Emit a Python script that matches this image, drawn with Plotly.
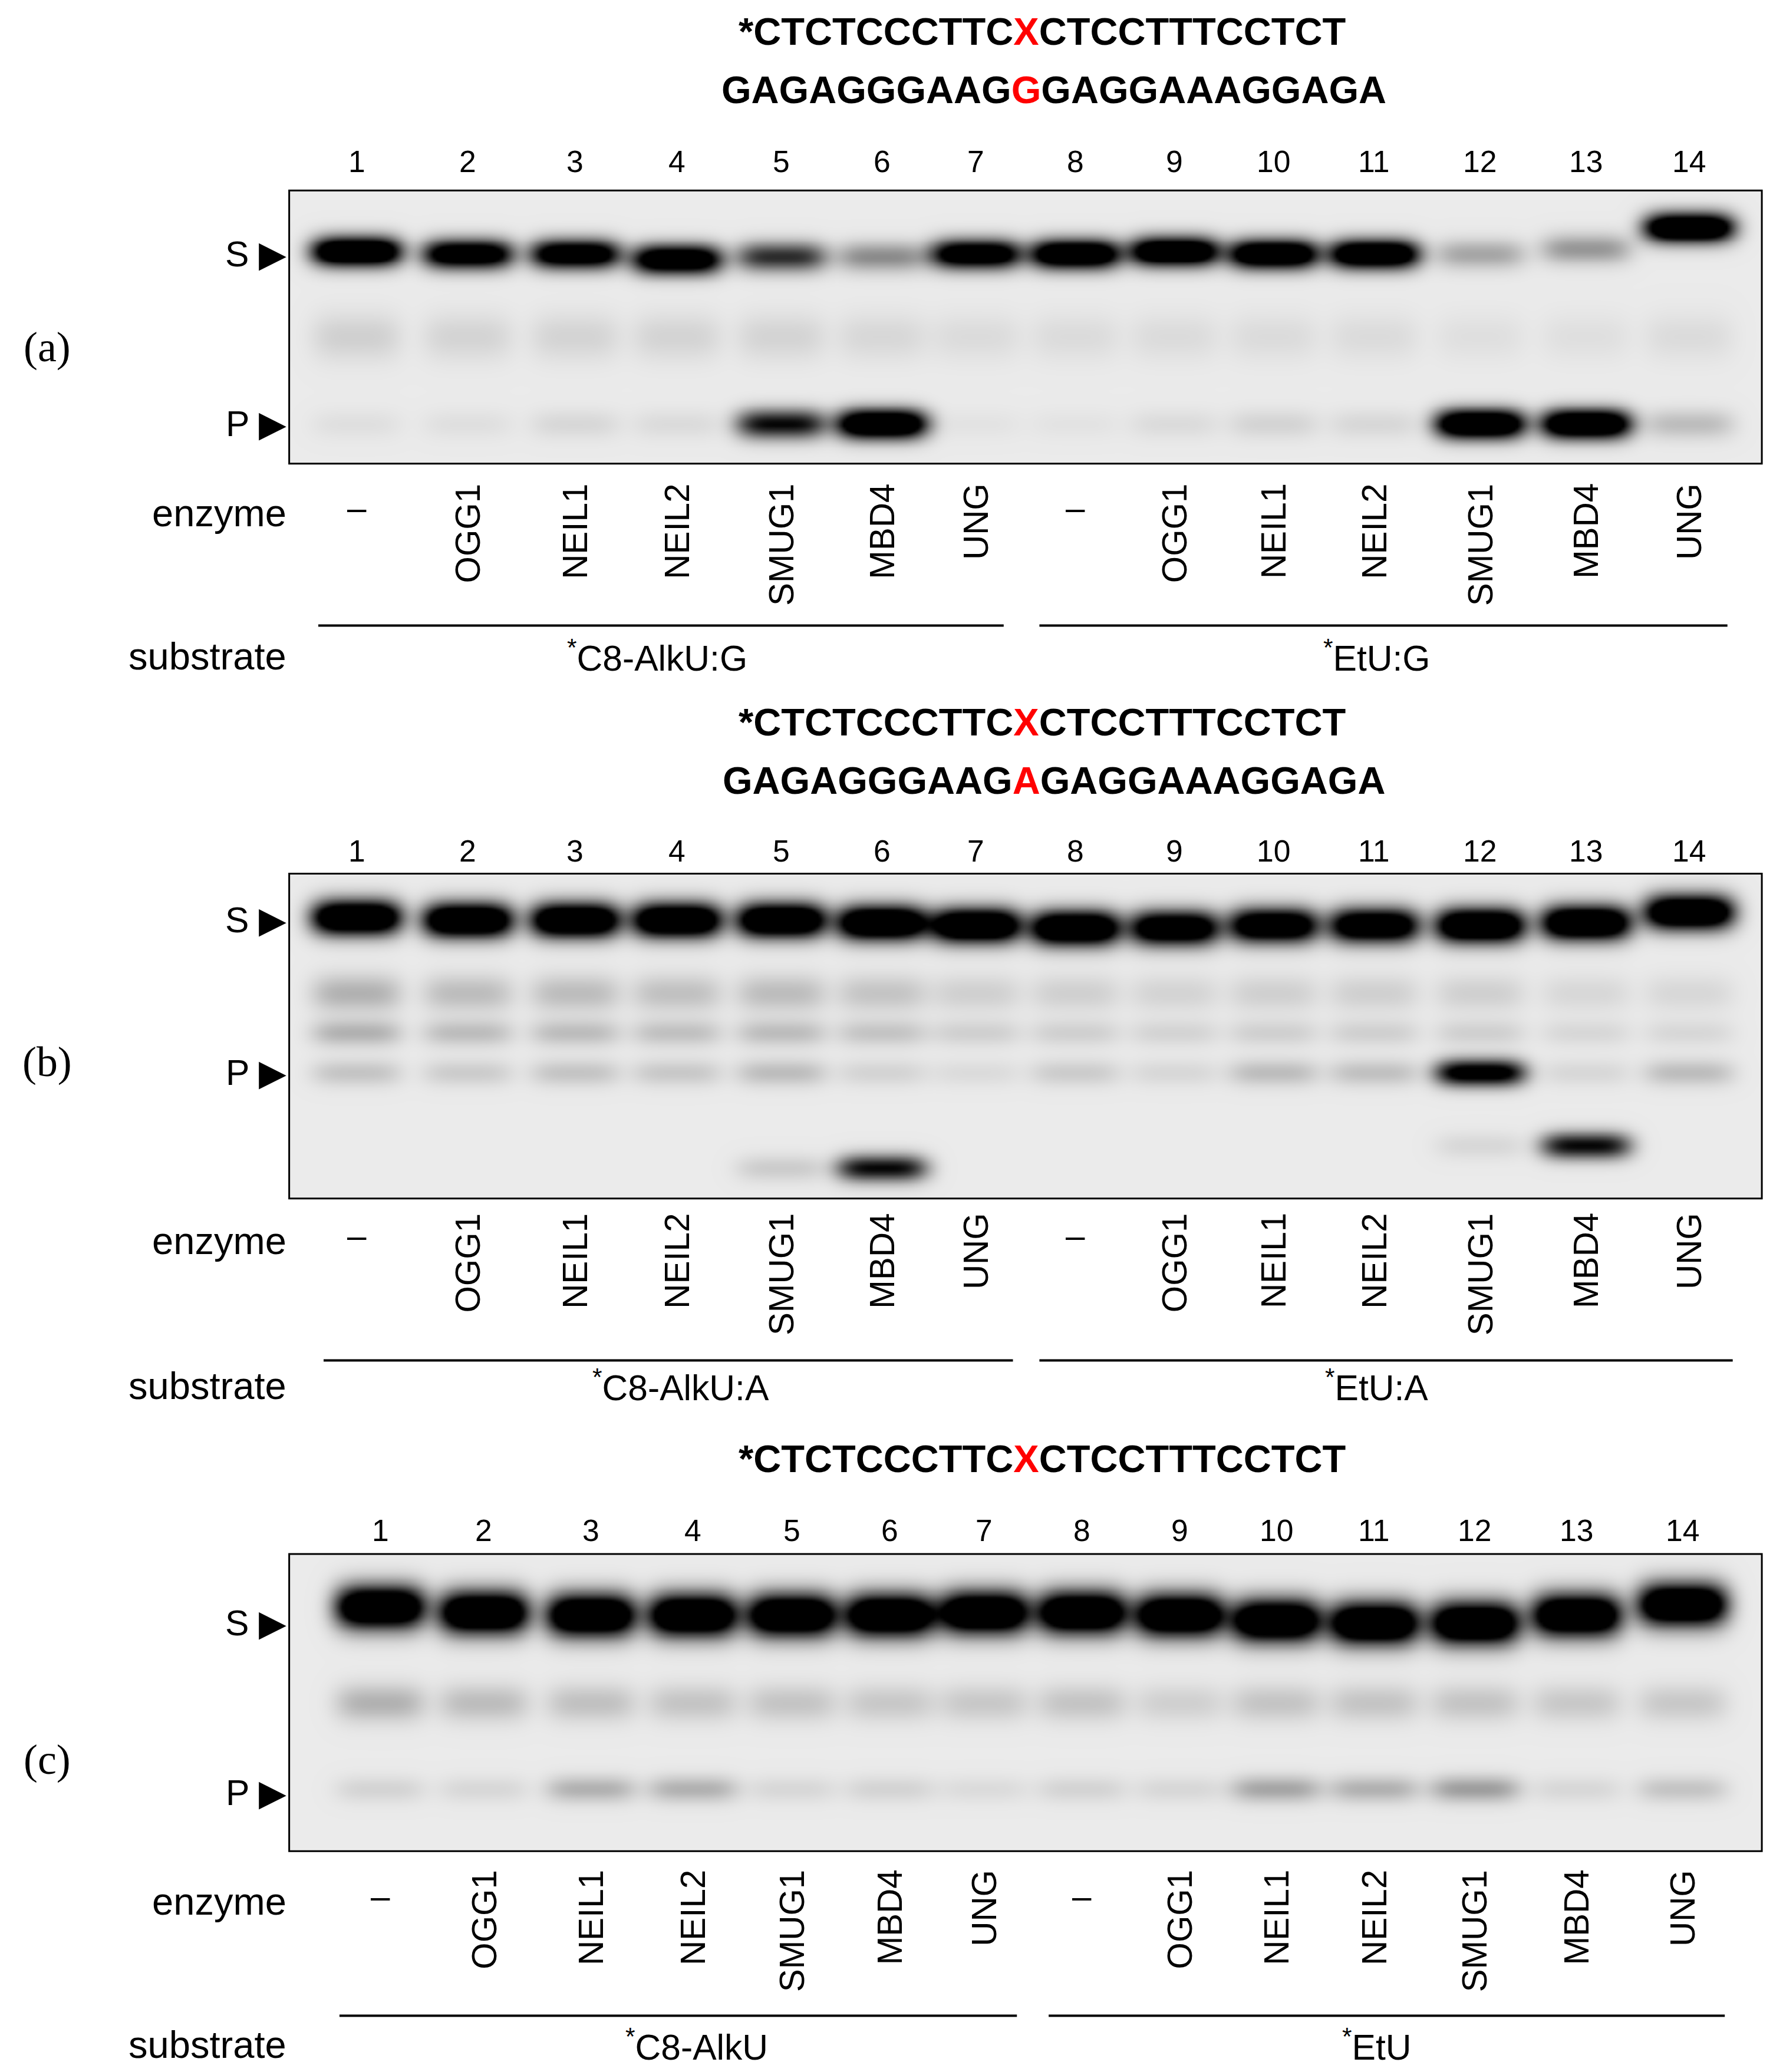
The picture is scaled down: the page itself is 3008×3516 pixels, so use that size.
import numpy as np
import plotly.graph_objects as go

W, H = 3008, 3516
SX, SY = W / 1340, H / 1562  # reference drawn in 1340x1562 units

lanes = [str(i) for i in range(1, 15)]
enzymes = ["–", "OGG1", "NEIL1", "NEIL2", "SMUG1", "MBD4", "UNG"] * 2

# lane centres per gel (reference units)
lane_x_ab = [266, 350, 431, 508, 587, 663, 734, 809, 884, 959, 1035, 1115, 1195, 1273]
lane_x_c = [284, 362, 443, 520, 595, 669, 740, 814, 888, 961, 1035, 1111, 1188, 1268]

# band intensities read from the gels (0 = empty, 1 = saturated)
a_S = [1.0, 0.85, 0.85, 0.9, 0.5, 0.25, 0.85, 0.95, 0.95, 0.95, 0.95, 0.18, 0.22, 1.0]
a_S_y = [186, 188, 188, 192, 190, 190, 188, 188, 186, 188, 188, 188, 184, 168]
a_P = [0.03, 0.03, 0.05, 0.04, 0.6, 1.0, 0.02, 0.02, 0.04, 0.06, 0.05, 1.0, 1.0, 0.12]
a_smear = [0.07, 0.06, 0.06, 0.06, 0.06, 0.05, 0.04, 0.04, 0.04, 0.04, 0.04, 0.03, 0.03, 0.04]

b_S = [1.0, 1.0, 1.0, 1.0, 1.0, 1.0, 1.0, 1.0, 0.9, 0.9, 0.9, 1.0, 1.0, 1.0]
b_S_y = [688, 690, 690, 690, 690, 692, 694, 696, 696, 694, 694, 694, 692, 684]
b_P = [0.1, 0.08, 0.1, 0.09, 0.12, 0.06, 0.04, 0.08, 0.05, 0.12, 0.11, 0.75, 0.05, 0.12]
b_smear = [0.15, 0.12, 0.12, 0.11, 0.12, 0.1, 0.07, 0.07, 0.06, 0.07, 0.07, 0.07, 0.05, 0.05]
b_low = [0, 0, 0, 0, 0.08, 0.6, 0, 0, 0, 0, 0, 0.05, 0.6, 0]
b_low_y = [877, 877, 877, 877, 877, 877, 877, 860, 860, 860, 860, 860, 860, 860]

c_S = [1.0] * 14
c_S_y = [1208, 1212, 1214, 1214, 1214, 1214, 1212, 1212, 1214, 1218, 1220, 1220, 1214, 1206]
c_P = [0.06, 0.05, 0.15, 0.15, 0.05, 0.06, 0.04, 0.06, 0.05, 0.18, 0.15, 0.2, 0.05, 0.1]
c_smear = [0.15, 0.12, 0.11, 0.1, 0.1, 0.09, 0.09, 0.1, 0.07, 0.1, 0.1, 0.1, 0.09, 0.09]

gels = [
    dict(x0=215, x1=1328, y0=140, y1=346, lx=lane_x_ab,
         bands=[(a_S_y, a_S, 11), (316, a_P, 11), (250, a_smear, 18)]),
    dict(x0=215, x1=1328, y0=655, y1=900, lx=lane_x_ab,
         bands=[(b_S_y, b_S, 13), (805, b_P, 10), (745, b_smear, 14), (775, b_smear, 10),
                (b_low_y, b_low, 10)]),
    dict(x0=215, x1=1328, y0=1168, y1=1392, lx=lane_x_c,
         bands=[(c_S_y, c_S, 16), (1345, c_P, 10), (1280, c_smear, 14)]),
]


def render(g):
    xs = np.linspace(g["x0"], g["x1"], 500)
    ys = np.linspace(g["y0"], g["y1"], 160)
    X, Y = np.meshgrid(xs, ys)
    z = np.full(X.shape, 0.08)
    for yc, vals, sy in g["bands"]:
        ycs = yc if isinstance(yc, list) else [yc] * len(vals)
        for lx, v, yv in zip(g["lx"], vals, ycs):
            z += v * 1.5 * np.exp(-((X - lx) / 34) ** 4) * np.exp(-((Y - yv) / sy) ** 2)
    return xs, ys, np.clip(z, 0, 1)


fig = go.Figure()
gray = [[0, "#ffffff"], [1, "#000000"]]
shapes = []
for i, g in enumerate(gels):
    xs, ys, z = render(g)
    n = "" if i == 0 else str(i + 1)
    fig.add_trace(go.Heatmap(x=xs, y=ys, z=z, colorscale=gray, zmin=0, zmax=1,
                             showscale=False, zsmooth="best", hoverinfo="skip",
                             xaxis="x" + n, yaxis="y" + n))
    ax = dict(showticklabels=False, ticks="", showgrid=False, zeroline=False, showline=False)
    fig.update_layout(**{
        "xaxis" + n: dict(domain=[g["x0"] / 1340, g["x1"] / 1340], range=[g["x0"], g["x1"]], **ax),
        "yaxis" + n: dict(domain=[1 - g["y1"] / 1562, 1 - g["y0"] / 1562],
                          range=[g["y1"], g["y0"]], **ax),
    })
    shapes.append(dict(type="rect", xref="paper", yref="paper", layer="above",
                       x0=g["x0"] / 1340, x1=g["x1"] / 1340,
                       y0=1 - g["y1"] / 1562, y1=1 - g["y0"] / 1562,
                       line=dict(color="black", width=3)))

ann = []


def txt(x, y, s, size, xa="center", ya="middle", angle=0, fam="Liberation Sans"):
    ann.append(dict(x=x / 1340, y=1 - y / 1562, xref="paper", yref="paper", text=s,
                    showarrow=False, xanchor=xa, yanchor=ya, textangle=angle,
                    font=dict(size=size * SX, family=fam, color="black")))


top = "*CTCTCCCTTC<span style='color:#ff0000'>X</span>CTCCTTTCCTCT"
panels = [
    dict(seq=[(20, top), (64, "GAGAGGGAAG<span style='color:#ff0000'>G</span>GAGGAAAGGAGA")],
         num_y=118, S=188, P=316, letter="(a)", ly=258, enz_y=383, lab_y=360,
         sub_y=491, line_y=468, lines=[(237, 755), (782, 1302)], lx=lane_x_ab,
         subs=[(493, "C8-AlkU:G"), (1037, "EtU:G")]),
    dict(seq=[(541, top), (585, "GAGAGGGAAG<span style='color:#ff0000'>A</span>GAGGAAAGGAGA")],
         num_y=638, S=690, P=805, letter="(b)", ly=797, enz_y=932, lab_y=910,
         sub_y=1041, line_y=1022, lines=[(241, 762), (782, 1306)], lx=lane_x_ab,
         subs=[(511, "C8-AlkU:A"), (1037, "EtU:A")]),
    dict(seq=[(1096, top)],
         num_y=1150, S=1220, P=1348, letter="(c)", ly=1323, enz_y=1430, lab_y=1405,
         sub_y=1538, line_y=1516, lines=[(253, 765), (789, 1300)], lx=lane_x_c,
         subs=[(523, "C8-AlkU"), (1037, "EtU")]),
]

for p in panels:
    for y, s in p["seq"]:
        txt(784 if s.startswith("*") else 793, y, "<b>" + s + "</b>", 29)
    for x, s in zip(p["lx"], lanes):
        txt(x, p["num_y"], s, 23)
    txt(214, p["S"], "S ▶", 27, xa="right")
    txt(214, p["P"], "P ▶", 27, xa="right")
    txt(32, p["ly"], p["letter"], 32, fam="Liberation Serif")
    txt(214, p["enz_y"], "enzyme", 29, xa="right")
    txt(214, p["sub_y"], "substrate", 29, xa="right")
    for x, s in zip(p["lx"], enzymes):
        if s == "–":
            txt(x, p["enz_y"] - 4, s, 26)
        else:
            txt(x, p["lab_y"], s, 26, ya="top", angle=-90)
    for x0, x1 in p["lines"]:
        shapes.append(dict(type="line", xref="paper", yref="paper", x0=x0 / 1340, x1=x1 / 1340,
                           y0=1 - p["line_y"] / 1562, y1=1 - p["line_y"] / 1562,
                           line=dict(color="black", width=4)))
    for x, s in p["subs"]:
        txt(x, p["sub_y"], "<sup>*</sup>" + s, 27)

fig.update_layout(width=W, height=H, margin=dict(l=0, r=0, t=0, b=0),
                  paper_bgcolor="white", plot_bgcolor="white", showlegend=False,
                  annotations=ann, shapes=shapes)
fig.write_html("out.html")
